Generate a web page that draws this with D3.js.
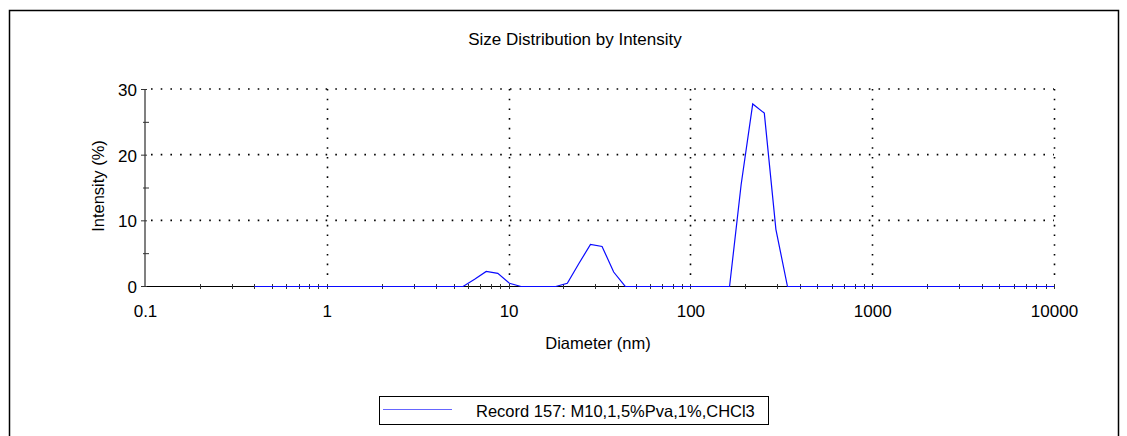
<!DOCTYPE html>
<html>
<head>
<meta charset="utf-8">
<script src="https://cdn.jsdelivr.net/npm/d3@7"></script>
<style>
  body { margin: 0; background: #fff; }
  text { font-family: "Liberation Sans", Arial, sans-serif; fill: #000; }
</style>
</head>
<body>
<script>
//data (Malvern style size bins, nm)
var sizes = [0.4, 0.4632, 0.5365, 0.6213, 0.7195, 0.8332, 0.9649, 1.117, 1.294, 1.499,
    1.736, 2.010, 2.328, 2.696, 3.122, 3.615, 4.187, 4.849, 5.615, 6.503,
    7.531, 8.721, 10.10, 11.70, 13.54, 15.69, 18.17, 21.04, 24.36, 28.21,
    32.67, 37.84, 43.82, 50.75, 58.77, 68.06, 78.82, 91.28, 105.7, 122.4,
    141.8, 164.2, 190.1, 220.2, 255.0, 295.3, 342.0, 396.1, 458.7, 531.2,
    615.1, 712.4, 825.0, 955.4, 1106, 1281, 1484, 1718, 1990, 2305,
    2669, 3091, 3580, 4145, 4801, 5560, 6439, 7456, 8635, 10000];

var intensity = [0, 0, 0, 0, 0, 0, 0, 0, 0, 0,
    0, 0, 0, 0, 0, 0, 0, 0, 0, 1.1,
    2.3, 2.0, 0.5, 0, 0, 0, 0, 0.5, 3.5, 6.4,
    6.1, 2.2, 0, 0, 0, 0, 0, 0, 0, 0,
    0, 0, 15.5, 27.8, 26.4, 8.7, 0, 0, 0, 0,
    0, 0, 0, 0, 0, 0, 0, 0, 0, 0,
    0, 0, 0, 0, 0, 0, 0, 0, 0, 0];

var xTicks = [0.1, 1, 10, 100, 1000, 10000];
var xTickLabels = ["0.1", "1", "10", "100", "1000", "10000"];
var yTicks = [0, 10, 20, 30];
var yMinorTicks = [5, 15, 25];

var title = "Size Distribution by Intensity";
var xLabel = "Diameter (nm)";
var yLabel = "Intensity (%)";
var seriesName = "Record 157: M10,1,5%Pva,1%,CHCl3";

var width = 1127, height = 436;
var plot = {left: 145, right: 1054, top: 89, bottom: 286};
var lineColor = "#0a0aff";

// scales
var x = d3.scaleLog().domain([0.1, 10000]).range([plot.left, plot.right]);
var y = d3.scaleLinear().domain([0, 30]).range([plot.bottom, plot.top]);

// minor ticks 2..9 in every decade
var xMinor = [];
xTicks.slice(0, -1).forEach(function(t) {
    x.ticks().forEach(function(v) {
        if (v > t && v < t * 10) xMinor.push(v);
    });
});

var svg = d3.select("body").append("svg")
    .attr("width", width)
    .attr("height", height);

// outer frame (left, top, right)
svg.append("path")
    .attr("d", "M9.5," + height + "V10.5H1118.5V" + height)
    .attr("fill", "none")
    .attr("stroke", "#000")
    .attr("stroke-width", 1.5);

svg.append("text")
    .attr("x", 575)
    .attr("y", 45)
    .attr("text-anchor", "middle")
    .style("font-size", "17px")
    .text(title);

// grid
var grid = svg.append("g")
    .attr("stroke", "#000")
    .attr("stroke-width", 1.6)
    .attr("stroke-dasharray", "1.6,8.1");

grid.selectAll(".hgrid")
    .data(yTicks.slice(1))
    .enter().append("line")
    .attr("x1", plot.left + 6)
    .attr("x2", plot.right)
    .attr("y1", d => y(d))
    .attr("y2", d => y(d));

grid.selectAll(".vgrid")
    .data(xTicks.slice(1))
    .enter().append("line")
    .attr("x1", d => Math.round(x(d)) + 0.5)
    .attr("x2", d => Math.round(x(d)) + 0.5)
    .attr("y1", plot.top)
    .attr("y2", plot.bottom - 4);

// x axis line + ticks
svg.append("line")
    .attr("x1", plot.left)
    .attr("x2", plot.right)
    .attr("y1", plot.bottom + 0.5)
    .attr("y2", plot.bottom + 0.5)
    .attr("stroke", "#000");

svg.selectAll(".xminor")
    .data(xMinor.concat(xTicks.slice(1)))
    .enter().append("line")
    .attr("x1", d => Math.round(x(d)) + 0.5)
    .attr("x2", d => Math.round(x(d)) + 0.5)
    .attr("y1", plot.bottom - 2)
    .attr("y2", plot.bottom + 3)
    .attr("stroke", "#333");

var xAxis = svg.append("g")
    .attr("transform", "translate(0," + (plot.bottom + 31) + ")")
    .call(d3.axisBottom(x).tickValues(xTicks).tickSize(0).tickPadding(0)
        .tickFormat((d, i) => xTickLabels[i]));
xAxis.select(".domain").remove();
xAxis.selectAll("text")
    .attr("dy", null)
    .attr("y", 0)
    .style("font-family", "Liberation Sans, Arial, sans-serif")
    .style("font-size", "17px")
    .attr("fill", "#000");

// y axis
svg.append("line")
    .attr("x1", plot.left)
    .attr("x2", plot.left)
    .attr("y1", plot.top)
    .attr("y2", plot.bottom + 1)
    .attr("stroke", "#808080")
    .attr("stroke-width", 2);

svg.selectAll(".ymajor")
    .data(yTicks)
    .enter().append("line")
    .attr("x1", plot.left - 4)
    .attr("x2", plot.left + 2)
    .attr("y1", d => y(d) + 0.5)
    .attr("y2", d => y(d) + 0.5)
    .attr("stroke", "#333");

svg.selectAll(".yminor")
    .data(yMinorTicks)
    .enter().append("line")
    .attr("x1", plot.left - 2)
    .attr("x2", plot.left + 4)
    .attr("y1", d => y(d) + 0.5)
    .attr("y2", d => y(d) + 0.5)
    .attr("stroke", "#333");

svg.selectAll(".ylabel")
    .data(yTicks)
    .enter().append("text")
    .attr("x", plot.left - 8)
    .attr("y", d => y(d) + 7)
    .attr("text-anchor", "end")
    .style("font-size", "17px")
    .text(d => d);

// axis titles
svg.append("text")
    .attr("x", 598)
    .attr("y", 349)
    .attr("text-anchor", "middle")
    .style("font-size", "16.5px")
    .text(xLabel);

svg.append("text")
    .attr("transform", "translate(104,186) rotate(-90)")
    .attr("text-anchor", "middle")
    .style("font-size", "16.5px")
    .text(yLabel);

// data line
var points = sizes.map(function(s, i) { return {size: s, value: intensity[i]}; });

var valueline = d3.line()
    .x(d => x(d.size))
    .y(d => y(d.value) + 0.5);

svg.append("path")
    .data([points])
    .attr("d", valueline)
    .attr("fill", "none")
    .attr("stroke", lineColor)
    .attr("stroke-width", 1.2);

// legend
var legend = svg.append("g");
legend.append("rect")
    .attr("x", 379.5)
    .attr("y", 396.5)
    .attr("width", 389)
    .attr("height", 28)
    .attr("fill", "#fff")
    .attr("stroke", "#000");

legend.append("line")
    .attr("x1", 383)
    .attr("x2", 452)
    .attr("y1", 409.5)
    .attr("y2", 409.5)
    .attr("stroke", "#6666ff")
    .attr("stroke-width", 1.2);

legend.append("text")
    .attr("x", 476)
    .attr("y", 416.5)
    .style("font-size", "16.5px")
    .text(seriesName);
</script>
</body>
</html>
